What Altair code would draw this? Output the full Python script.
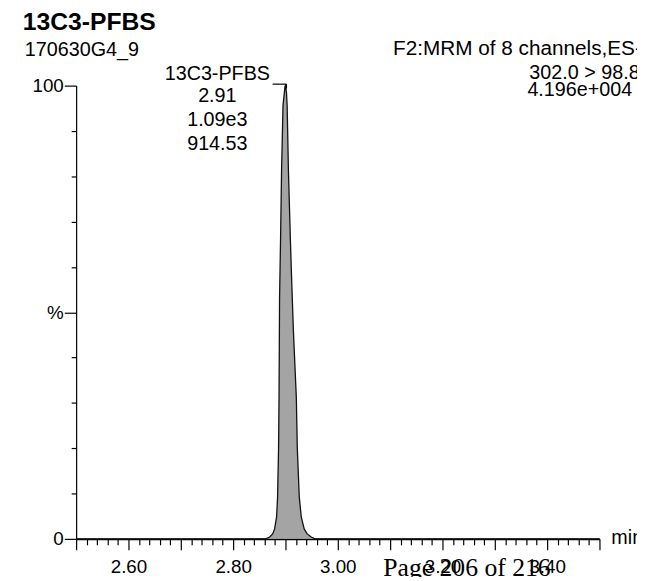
import altair as alt
import pandas as pd

# ---- data ----
rt_min = [2.50, 2.8623, 2.8698, 2.8755, 2.8792, 2.8830, 2.8849, 2.8868, 2.8877,
          2.8887, 2.8906, 2.8925, 2.8953, 2.8991, 2.9000, 2.9019, 2.9032, 2.9057,
          2.9094, 2.9113, 2.9151, 2.9208, 2.9226, 2.9264, 2.9302, 2.9358, 2.9415,
          2.9491, 2.9566, 3.50]
intensity_pct = [0, 0, 0.4, 1.1, 2.2, 4.8, 9.2, 20, 31,
                 53, 66, 81, 95.6, 99.8, 100, 98.5, 95.6, 81,
                 66, 59, 46, 31, 20, 9.2, 4.8, 2.2, 1.1,
                 0.4, 0, 0]

x_tick_values = [round(2.50 + 0.02 * i, 2) for i in range(51)]
y_tick_values = [0, 10, 20, 30, 40, 50, 60, 70, 80, 90, 100]

title_text = "13C3-PFBS"
sample_text = "170630G4_9"
function_lines = ["F2:MRM of 8 channels,ES-", "302.0 > 98.8", "4.196e+004"]
peak_lines = ["13C3-PFBS", "2.91", "1.09e3", "914.53"]
x_unit = "min"
page_text = "Page 206 of 216"

FONT = "Liberation Sans"
W, H = 530, 459

df = pd.DataFrame({"rt": rt_min, "pct": intensity_pct})

x_scale = alt.Scale(domain=[2.5, 3.5], nice=False, zero=False)
y_scale = alt.Scale(domain=[0, 100], nice=False)

x_axis = alt.Axis(
    values=x_tick_values, title=None, grid=False,
    labelExpr="round(datum.value*100) % 20 == 0 ? format(datum.value, '.2f') : ''",
    labelFont=FONT, labelFontSize=19, labelColor="black",
    labelFlush=False, labelOverlap=False, labelBound=False,
    labelPadding=8,
    tickColor="black", tickWidth=1.2,
    tickSize={"condition": {"test": "round(datum.value*100) % 10 == 0", "value": 11}, "value": 6},
    domainColor="black", domainWidth=1.6,
)
y_axis = alt.Axis(
    values=y_tick_values, title=None, grid=False,
    labelExpr="datum.value == 50 ? '%' : (datum.value == 0 || datum.value == 100 ? datum.label : '')",
    labelFont=FONT, labelFontSize=19, labelColor="black",
    labelFlush=False, labelOverlap=False, labelBound=False,
    labelPadding=1,
    tickColor="black", tickWidth=1.2,
    tickSize={"condition": {"test": "datum.value % 50 == 0", "value": 12}, "value": 5},
    domainColor="black", domainWidth=1.2,
)

base = alt.Chart(df).encode(
    x=alt.X("rt:Q", scale=x_scale, axis=x_axis),
    y=alt.Y("pct:Q", scale=y_scale, axis=y_axis),
)
area = base.mark_area(color="#a4a4a4", opacity=1)
outline = base.mark_line(color="#111111", strokeWidth=1.3)


def label(text, x, y, size=20, weight="normal", align="left", font=FONT):
    return alt.Chart(pd.DataFrame({"t": [text]})).mark_text(
        align=align, baseline="alphabetic", font=font, fontSize=size,
        fontWeight=weight, color="black"
    ).encode(x=alt.value(x), y=alt.value(y), text="t:N")


one = pd.DataFrame({"a": [0]})
leader_h = alt.Chart(one).mark_rule(color="black", strokeWidth=1.2).encode(
    x=alt.value(199), x2=alt.value(213), y=alt.value(-1.5))
leader_v = alt.Chart(one).mark_rule(color="black", strokeWidth=1.2).encode(
    x=alt.value(213), y=alt.value(-1.5), y2=alt.value(3))

texts = [
    label(title_text, -54, -56, size=25, weight="bold"),
    label(sample_text, -52, -30, size=20),
    label(function_lines[0], 321, -31, size=21),
    label(function_lines[1], 459, -6.5, size=20),
    label(function_lines[2], 457, 10, size=20),
    label(x_unit, 542, 464, size=20),
]
for line, yy in zip(peak_lines, [-6, 17, 41, 65]):
    texts.append(label(line, 143, yy, size=20, align="center"))
texts.append(label(page_text, 311, 497, size=26, font="Liberation Serif"))

chart = alt.layer(area, outline, leader_h, leader_v, *texts).properties(
    width=W, height=H,
    autosize=alt.AutoSizeParams(type="none"),
    padding={"left": 69, "top": 75, "right": 38, "bottom": 35},
    background="white",
).configure_view(stroke=None)

chart.save("out.html", embed_options={"renderer": "svg", "actions": False})
